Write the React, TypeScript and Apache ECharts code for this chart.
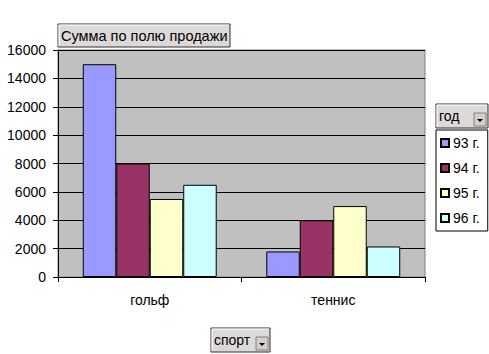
import React, { useEffect, useRef } from "react";
import * as echarts from "echarts";

const categories = ["гольф", "теннис"];
const seriesNames = ["93 г.", "94 г.", "95 г.", "96 г."];
const values93 = [15000, 1800];
const values94 = [8000, 4000];
const values95 = [5500, 5000];
const values96 = [6500, 2150];
const colors = ["#9999FF", "#993366", "#FFFFCC", "#CCFFFF"];

const FONT = "'Liberation Sans', Arial, sans-serif";
const BTN = "#DDD9D9";

function button(x: number, y: number, w: number, h: number, label: string, arrow: boolean, fs: number) {
  const children: any[] = [
    { type: "rect", shape: { x, y, width: w, height: h }, style: { fill: BTN, stroke: "#303030", lineWidth: 1 } },
    { type: "line", shape: { x1: x + 1, y1: y + 1, x2: x + w - 1, y2: y + 1 }, style: { stroke: "#ffffff", lineWidth: 1 } },
    { type: "line", shape: { x1: x + 1, y1: y + 1, x2: x + 1, y2: y + h - 1 }, style: { stroke: "#ffffff", lineWidth: 1 } },
    {
      type: "text",
      style: { text: label, x: x + 3, y: y + h / 2, verticalAlign: "middle", font: `${fs}px ${FONT}`, fill: "#000" },
    },
  ];
  if (arrow) {
    const ax = x + w - 14;
    const ay = y + h - 15;
    children.push(
      { type: "rect", shape: { x: ax, y: ay, width: 12, height: 13 }, style: { fill: "#D4D0C8", stroke: "#808080", lineWidth: 1 } },
      { type: "polygon", shape: { points: [[ax + 3, ay + 6], [ax + 9, ay + 6], [ax + 6, ay + 9]] }, style: { fill: "#000" } }
    );
  }
  return { type: "group", children };
}

export default function App() {
  const ref = useRef<HTMLDivElement>(null);
  useEffect(() => {
    if (!ref.current) return;
    const chart = echarts.init(ref.current, null, { renderer: "svg" });
    const data = [values93, values94, values95, values96];
    chart.setOption({
      animation: false,
      backgroundColor: "#ffffff",
      textStyle: { fontFamily: FONT },
      grid: {
        left: 58,
        top: 50,
        width: 367,
        height: 227,
        show: true,
        backgroundColor: "#C0C0C0",
        borderColor: "#808080",
        borderWidth: 1,
      },
      legend: {
        orient: "vertical",
        left: 436,
        top: 130,
        width: 51,
        backgroundColor: "#ffffff",
        borderColor: "#000000",
        borderWidth: 1,
        borderRadius: 0,
        padding: [6, 8, 6, 4],
        itemWidth: 8,
        itemHeight: 8,
        itemGap: 11,
        icon: "rect",
        textStyle: { fontSize: 14, lineHeight: 13, color: "#000", fontFamily: FONT, padding: [0, 0, 0, -1] },
        data: seriesNames,
      },
      xAxis: {
        type: "category",
        data: categories,
        axisLine: { lineStyle: { color: "#000", width: 1 } },
        axisTick: { show: true, length: 5, alignWithLabel: false, lineStyle: { color: "#000" } },
        axisLabel: { color: "#000", fontSize: 14, margin: 16, fontFamily: FONT },
      },
      yAxis: {
        type: "value",
        min: 0,
        max: 16000,
        interval: 2000,
        axisLine: { show: true, lineStyle: { color: "#000", width: 1 } },
        axisTick: { show: true, length: 5, lineStyle: { color: "#000" } },
        axisLabel: { color: "#000", fontSize: 14, margin: 12, fontFamily: FONT, formatter: (v: number) => String(v) },
        splitLine: { show: true, lineStyle: { color: "#000", width: 1 } },
      },
      series: seriesNames.map((name, i) => ({
        name,
        type: "bar",
        data: data[i],
        barGap: "0%",
        barCategoryGap: "27%",
        itemStyle: { color: colors[i], borderColor: "#000", borderWidth: 1 },
      })),
      graphic: [
        button(58, 24, 172, 23, "Сумма по полю продажи", false, 14.5),
        button(436, 104, 52, 24, "год", true, 14),
        button(211, 328, 59, 24, "спорт", true, 14),
      ],
    });
    return () => chart.dispose();
  }, []);
  return <div ref={ref} style={{ position: "fixed", left: 0, top: 0, width: 489, height: 354 }} />;
}
